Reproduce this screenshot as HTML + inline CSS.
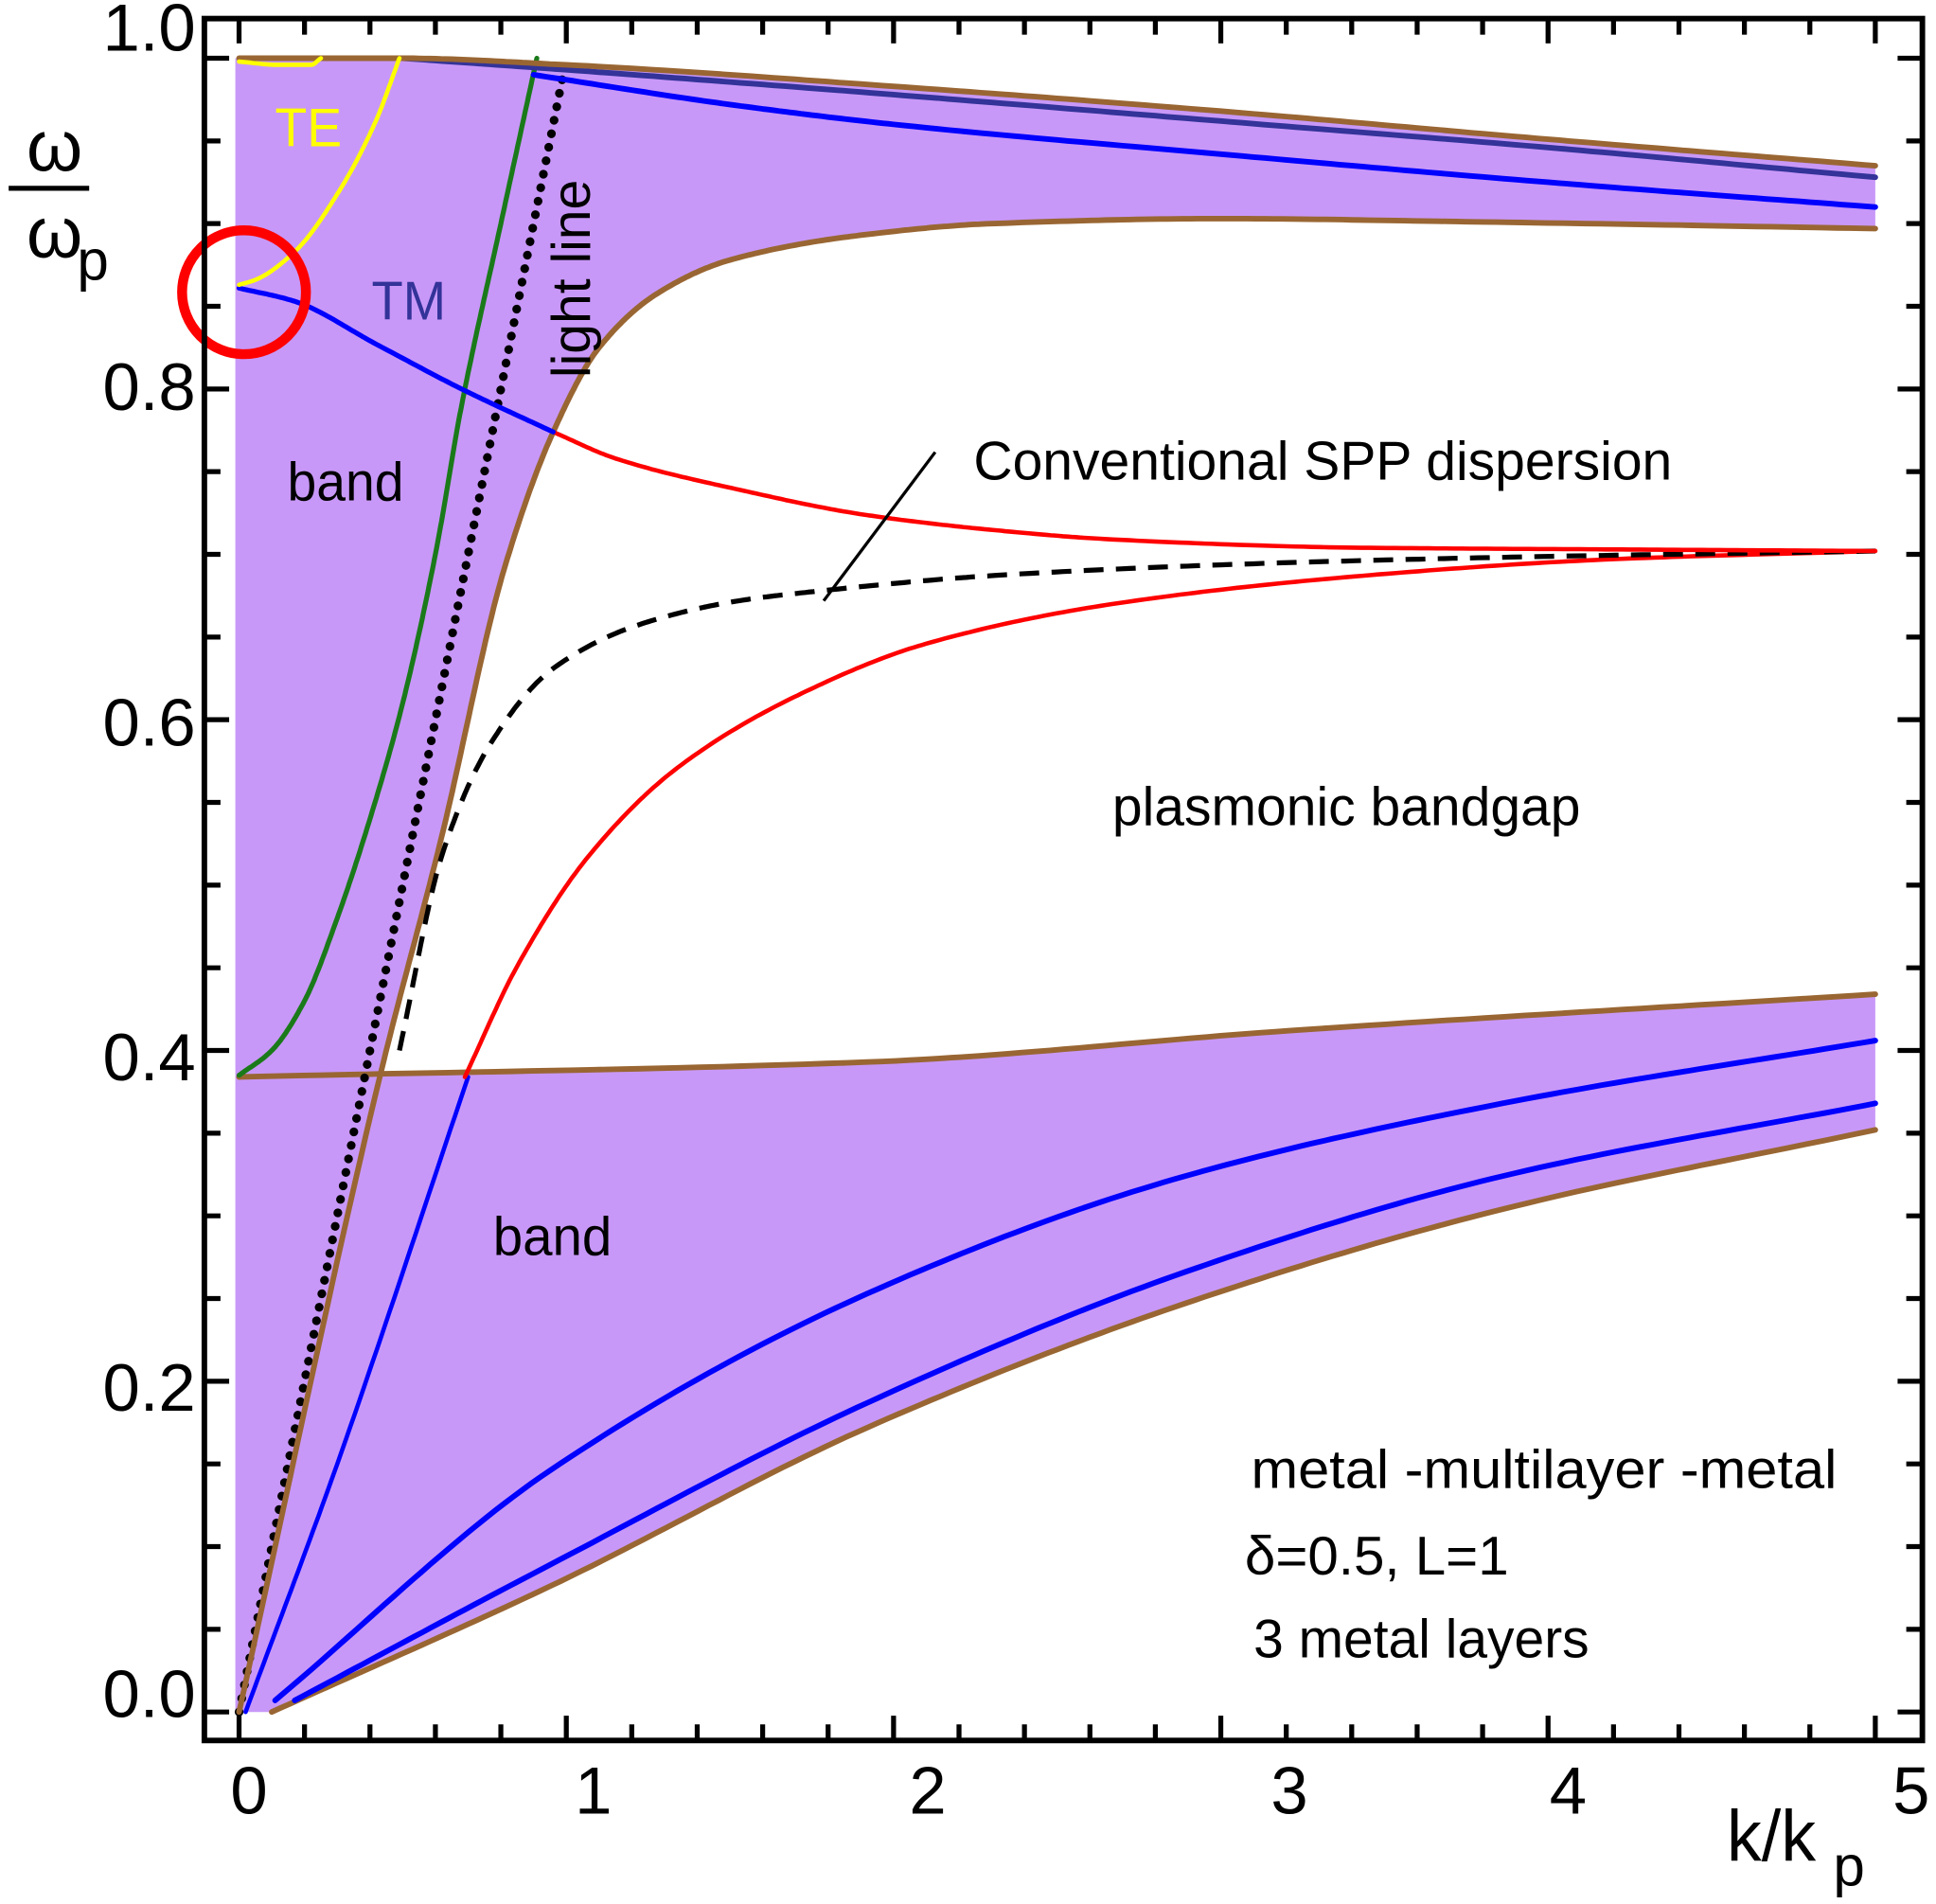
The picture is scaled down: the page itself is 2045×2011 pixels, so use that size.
<!DOCTYPE html>
<html><head><meta charset="utf-8"><style>
html,body{margin:0;padding:0;background:#fff}
svg{display:block}
text{font-family:"Liberation Sans",Arial,sans-serif}
</style></head><body>
<svg id="chart" width="2045" height="2011" viewBox="0 0 1563 1537" xmlns="http://www.w3.org/2000/svg">
<g id="fills"></g>
<g id="curves"></g>
<g id="frame"></g>
<g id="labels"></g>
</svg>
<script>
// ---- data (k/kp, omega/omegap) ----
const brownTopK = [0, 0.5, 1, 2, 3, 4, 5];
const brownTopW = [1.0, 1.0, 0.996, 0.983, 0.968, 0.951, 0.935];
const navyK = [0.5, 1, 2, 3, 4, 5];
const navyW = [1.0, 0.993, 0.978, 0.962, 0.946, 0.928];
const blueTopK = [0.9, 1.5, 2, 3, 4, 5];
const blueTopW = [0.99, 0.972, 0.96, 0.942, 0.925, 0.91];
const brownLowK = [0, 0.43, 0.62, 0.81, 0.96, 1.1, 1.28, 1.5, 1.9, 2.3, 3, 3.8, 5];
const brownLowW = [0, 0.384, 0.53, 0.691, 0.774, 0.825, 0.858, 0.878, 0.893, 0.9, 0.903, 0.901, 0.897];
const greenK = [0, 0.1, 0.2, 0.3, 0.4, 0.5, 0.6, 0.68, 0.8, 0.91];
const greenW = [0.385, 0.4, 0.43, 0.48, 0.54, 0.61, 0.70, 0.79, 0.9, 1.0];
const lightK = [0, 0.99];
const lightW = [0, 0.99];
const tmK = [0, 0.17, 0.42, 0.68, 0.96];
const tmW = [0.861, 0.853, 0.827, 0.8, 0.774];
const redTopK = [0.96, 1.15, 1.53, 1.91, 2.29, 2.67, 3.43, 4.2, 5.0];
const redTopW = [0.774, 0.758, 0.739, 0.724, 0.715, 0.709, 0.704, 0.703, 0.702];
const teK = [0, 0.05, 0.17, 0.31, 0.42, 0.49];
const teW = [0.863, 0.866, 0.883, 0.921, 0.963, 1.0];
const teTopK = [0, 0.12, 0.22, 0.25];
const teTopW = [0.998, 0.996, 0.996, 1.0];
const sppK = [0.49, 0.62, 0.77, 0.96, 1.23, 1.53, 1.78, 2.29, 3.05, 3.81, 5.0];
const sppW = [0.40, 0.518, 0.586, 0.631, 0.658, 0.672, 0.678, 0.687, 0.694, 0.698, 0.702];
const redLowK = [0.69, 0.85, 1.07, 1.34, 1.72, 2.1, 2.67, 3.43, 4.19, 5.0];
const redLowW = [0.384, 0.451, 0.518, 0.571, 0.616, 0.646, 0.67, 0.687, 0.697, 0.702];
const blueSteepK = [0.02, 0.3, 0.7];
const blueSteepW = [0, 0.15, 0.384];
const blueAK = [0.11, 0.95, 1.92, 2.89, 3.86, 5];
const blueAW = [0.007, 0.146, 0.253, 0.324, 0.368, 0.406];
const blueBK = [0.17, 0.95, 1.92, 2.89, 3.86, 5];
const blueBW = [0.007, 0.089, 0.187, 0.266, 0.324, 0.368];
const brownBotK = [0.1, 0.95, 1.92, 2.89, 3.86, 5];
const brownBotW = [0, 0.076, 0.172, 0.247, 0.304, 0.352];
const brownHK = [0, 1.92, 3.21, 5];
const brownHW = [0.384, 0.393, 0.412, 0.434];
const xTickLabels = ["0", "1", "2", "3", "4", "5"];
const yTickLabels = ["0.0", "0.2", "0.4", "0.6", "0.8", "1.0"];

// ---- axes ----
const X0 = 193, XS = 264.2, Y0 = 1382, YS = 1335;
function sx(k){ return X0 + k*XS; }
function sy(w){ return Y0 - w*YS; }
const NS = "http://www.w3.org/2000/svg";
function mk(tag, attrs, parent){
  const e = document.createElementNS(NS, tag);
  for (const a in attrs) e.setAttribute(a, attrs[a]);
  parent.appendChild(e); return e;
}
function sample(K, W){
  const n = K.length;
  if (n < 3) return K.map((k,i)=>[sx(k), sy(W[i])]);
  const d = [], m = new Array(n);
  for (let i=0;i<n-1;i++) d.push((W[i+1]-W[i])/(K[i+1]-K[i]));
  m[0]=d[0]; m[n-1]=d[n-2];
  for (let i=1;i<n-1;i++){
    if (d[i-1]*d[i] <= 0) m[i]=0;
    else { const w1=2*(K[i+1]-K[i])+(K[i]-K[i-1]), w2=(K[i+1]-K[i])+2*(K[i]-K[i-1]);
      m[i]=(w1+w2)/(w1/d[i-1]+w2/d[i]); }
  }
  const out=[];
  for (let i=0;i<n-1;i++){
    const h=K[i+1]-K[i], steps=30;
    for (let s=0;s<(i===n-2?steps+1:steps);s++){
      const t=s/steps, t2=t*t, t3=t2*t;
      const v=(2*t3-3*t2+1)*W[i]+(t3-2*t2+t)*h*m[i]+(-2*t3+3*t2)*W[i+1]+(t3-t2)*h*m[i+1];
      out.push([sx(K[i]+t*h), sy(v)]);
    }
  }
  return out;
}
function poly(p){ return "M"+p.map(q=>q[0].toFixed(1)+","+q[1].toFixed(1)).join(" L"); }

const fills = document.getElementById('fills');
const curves = document.getElementById('curves');
const FILL = "#c898f8";

{
  const top = sample(brownTopK, brownTopW); top.unshift([190, sy(1.0)]);
  const low = sample(brownLowK, brownLowW).reverse();
  let d = poly(top.concat(low)) + " L190," + sy(0) + " Z";
  const f = mk('path', {d:d, fill:FILL, stroke:'none'}, fills);
  
  
}
{
  const h = sample(brownHK, brownHW);
  const b = sample(brownBotK, brownBotW).reverse();
  let d = poly(h.concat(b)) + " L" + sx(0) + "," + sy(0) + " Z";
  const f = mk('path', {d:d, fill:FILL, stroke:'none'}, fills);
  
  
}

function curve(K, W, color, width, name, extra){
  const a = {d:poly(sample(K,W)), fill:'none', stroke:color, 'stroke-width':width, 'stroke-linecap':'round', 'stroke-linejoin':'round'};
  if (extra) Object.assign(a, extra);
  const e = mk('path', a, curves);
  
  
  return e;
}
curve(brownBotK, brownBotW, "#996633", 4.5, "brown-bottom-band-edge");
curve(blueBK, blueBW, "#0000ff", 4.5, "blue-band-mode-b");
curve(blueAK, blueAW, "#0000ff", 4.5, "blue-band-mode-a");
curve(blueSteepK, blueSteepW, "#0000ff", 3.5, "blue-steep-mode");
curve(brownHK, brownHW, "#996633", 4.5, "brown-bandgap-edge");
curve(redLowK, redLowW, "#ff0000", 3.5, "red-lower-gap-mode");
curve(greenK, greenW, "#1a7a1a", 4, "green-mode");
curve(lightK, lightW, "#000000", 7, "light-line", {'stroke-dasharray':'0.1 11', 'stroke-linecap':'round'});
curve(brownLowK, brownLowW, "#996633", 4.5, "brown-upper-band-lower-edge");
curve(sppK, sppW, "#000000", 4, "spp-dispersion-dashed", {'stroke-dasharray':'16 10', 'stroke-linecap':'butt'});
curve(redTopK, redTopW, "#ff0000", 3.5, "red-upper-gap-mode");
curve(tmK, tmW, "#0000ff", 4, "tm-mode");
curve(blueTopK, blueTopW, "#0000ff", 4.5, "blue-top-mode");
curve(navyK, navyW, "#333399", 4.5, "navy-top-mode");
curve(brownTopK, brownTopW, "#996633", 4.5, "brown-top-edge");
curve(teK, teW, "#ffff00", 3.5, "te-mode");
curve(teTopK, teTopW, "#ffff00", 3.5, "te-top-mode");

{
  const c = mk('circle', {cx:sx(0)+4, cy:sy(0.863)+6, r:50, fill:'none', stroke:'#ff0000', 'stroke-width':8}, curves);
  
  
}
{
  const l = mk('line', {x1:665, y1:485, x2:755, y2:365, stroke:'#000', 'stroke-width':2.5}, curves);
  
  
}

const frame = document.getElementById('frame');
{
  const r = mk('rect', {x:165, y:15, width:1387, height:1390, fill:'none', stroke:'#000', 'stroke-width':4.5}, frame);
  
  
}
for (let i=0;i<=20;i++){
  const w = i*0.05, y = sy(w), major = (i%4===0);
  const len = major ? 20 : 13;
  const t1 = mk('line', {x1:165, y1:y, x2:165+len, y2:y, stroke:'#000', 'stroke-width':4}, frame);
  
  
  const t2 = mk('line', {x1:1552, y1:y, x2:1552-len, y2:y, stroke:'#000', 'stroke-width':4}, frame);
  
  
}
for (let i=0;i<=25;i++){
  const k = i*0.2, x = sx(k), major = (i%5===0);
  const len = major ? 20 : 13;
  const t1 = mk('line', {x1:x, y1:1405, x2:x, y2:1405-len, stroke:'#000', 'stroke-width':4}, frame);
  
  
  const t2 = mk('line', {x1:x, y1:15, x2:x, y2:15+len, stroke:'#000', 'stroke-width':4}, frame);
  
  
}

const labels = document.getElementById('labels');
const yLabelY = [1386, 1139, 872, 602, 331, 41];
yTickLabels.forEach((s,i)=>{
  const t = mk('text', {x:158, y:yLabelY[i], 'font-size':54, 'text-anchor':'end'}, labels);
  t.textContent = s;
  
  
});
const xLabelX = [201, 479, 749, 1041, 1266, 1543];
xTickLabels.forEach((s,i)=>{
  const t = mk('text', {x:xLabelX[i], y:1464, 'font-size':54, 'text-anchor':'middle'}, labels);
  t.textContent = s;
  
  
});
</script>
<script>
(function(){
  const NS="http://www.w3.org/2000/svg";
  const g=document.getElementById('labels');
  function txt(s,attrs,name){
    const t=document.createElementNS(NS,'text');
    for(const a in attrs)t.setAttribute(a,attrs[a]);
    t.textContent=s;
    
    
    g.appendChild(t);return t;
  }
  txt("ω",{x:44,y:138,'font-size':58,'text-anchor':'middle'},"y-axis-title-omega");
  const ln=document.createElementNS(NS,'line');
  ln.setAttribute('x1',7);ln.setAttribute('y1',152);ln.setAttribute('x2',72);ln.setAttribute('y2',152);
  ln.setAttribute('stroke','#000');ln.setAttribute('stroke-width',4);
  
  
  g.appendChild(ln);
  txt("ω",{x:44,y:208,'font-size':58,'text-anchor':'middle'},"y-axis-title-omega-p");
  txt("p",{x:75,y:226,'font-size':46,'text-anchor':'middle'},"y-axis-title-subscript");
  txt("k/k",{x:1394,y:1502,'font-size':58,textLength:72,lengthAdjust:'spacingAndGlyphs'},"x-axis-title");
  txt("p",{x:1480,y:1522,'font-size':46},"x-axis-title-subscript");
  txt("TE",{x:222,y:118,'font-size':44,fill:'#ffff00',textLength:54,lengthAdjust:'spacingAndGlyphs'},"te-label");
  txt("TM",{x:300,y:258,'font-size':44,fill:'#333399',textLength:60,lengthAdjust:'spacingAndGlyphs'},"tm-label");
  txt("light line",{x:0,y:0,'font-size':44,transform:'translate(476,305) rotate(-90)',textLength:160,lengthAdjust:'spacingAndGlyphs'},"light-line-label");
  txt("band",{x:232,y:404,'font-size':44,textLength:94,lengthAdjust:'spacingAndGlyphs'},"upper-band-label");
  txt("band",{x:398,y:1013,'font-size':44,textLength:96,lengthAdjust:'spacingAndGlyphs'},"lower-band-label");
  txt("Conventional SPP dispersion",{x:786,y:387,'font-size':44,textLength:564,lengthAdjust:'spacingAndGlyphs'},"spp-annotation");
  txt("plasmonic bandgap",{x:898,y:666,'font-size':44,textLength:378,lengthAdjust:'spacingAndGlyphs'},"bandgap-label");
  txt("metal -multilayer  -metal",{x:1010,y:1201,'font-size':44,textLength:473,lengthAdjust:'spacingAndGlyphs'},"structure-label");
  txt("δ=0.5,  L=1",{x:1005,y:1271,'font-size':44,textLength:213,lengthAdjust:'spacingAndGlyphs'},"parameters-label");
  txt("3 metal layers",{x:1012,y:1338,'font-size':44,textLength:271,lengthAdjust:'spacingAndGlyphs'},"layers-label");
})();
</script>
</body></html>
